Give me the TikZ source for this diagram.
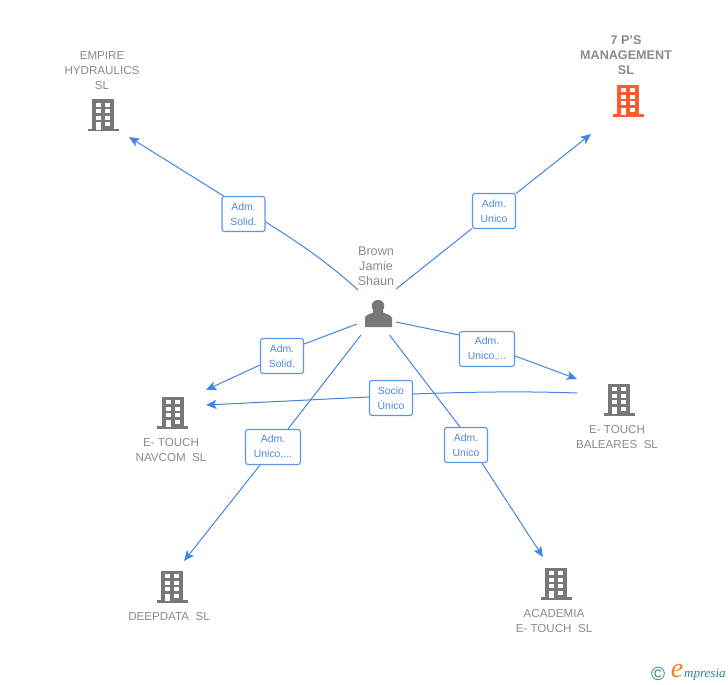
\documentclass[tikz,border=0pt]{standalone}
\usepackage{fontspec}
\setmainfont{Liberation Sans}
\newfontfamily\logofont{Liberation Serif}
\usetikzlibrary{arrows.meta}
\definecolor{linkblue}{HTML}{3F86E6}
\definecolor{boxblue}{HTML}{5A97EA}
\definecolor{labelblue}{HTML}{4A88DC}
\definecolor{txtgray}{HTML}{8A8A8A}
\definecolor{icongray}{HTML}{787878}
\definecolor{iconred}{HTML}{FF5A30}
\definecolor{logoteal}{HTML}{2F7F93}
\definecolor{logoorange}{HTML}{F58220}
\tikzset{
  x=1pt,y=-1pt,
  link/.style={draw=linkblue,line width=1pt},
  arrowlink/.style={link,-{Stealth[length=10.5pt,width=9pt,inset=2.5pt]}},
  rolebox/.style={draw=boxblue,line width=1.1pt,rounded corners=2.5pt,fill=white,align=center,
    font=\fontsize{10.4}{15}\selectfont,text=labelblue,minimum height=35pt,inner sep=1pt},
  caption/.style={align=center,font=\fontsize{11.6}{15}\selectfont,text=txtgray,inner sep=0pt},
  anchorpt/.style={inner sep=0pt,minimum size=24pt},
  pics/bldg/.style={code={
    \fill[#1] (-11,-16.5) rectangle (11,15);
    \fill[#1] (-15.5,13) rectangle (15.5,15.5);
    \foreach \yy in {-13,-6.5,0} {
      \fill[white] (-7,\yy) rectangle (-2,\yy+4);
      \fill[white] (2,\yy) rectangle (7,\yy+4);
    }
    \fill[white] (-7,6.5) rectangle (-2,14);
    \fill[white] (2,6.5) rectangle (7,10.5);
  }}
}
\begin{document}
\begin{tikzpicture}
\useasboundingbox (0,0) rectangle (728,685);
% buildings
\node[anchorpt] (empire) at (103,115.5) {};
\pic at (empire.center) {bldg={icongray}};
\node[anchorpt] (seven) at (628,101) {};
\pic at (seven.center) {bldg={iconred}};
\node[anchorpt] (navcom) at (172.5,413) {};
\pic at (navcom.center) {bldg={icongray}};
\node[anchorpt] (baleares) at (619,400) {};
\pic at (baleares.center) {bldg={icongray}};
\node[anchorpt] (deepdata) at (172,587) {};
\pic at (deepdata.center) {bldg={icongray}};
\node[anchorpt] (academia) at (556,584) {};
\pic at (academia.center) {bldg={icongray}};
% person
\node[anchorpt] (person) at (378,314) {};
\fill[icongray] (365,327) -- (365,318.5) .. controls (365,315) and (369,314.5) .. (373,312.5)
  .. controls (373.5,311.5) and (373.5,311) .. (373,310)
  .. controls (370.5,307) and (371,300) .. (378,300)
  .. controls (385,300) and (385.5,307) .. (383,310)
  .. controls (382.5,311) and (382.5,311.5) .. (383,312.5)
  .. controls (387,314.5) and (392,315) .. (392,318.5) -- (392,327) -- cycle;
% captions
\node[caption] (c1) at (102,70.5) {EMPIRE\\HYDRAULICS\\SL};
\node[caption,font=\bfseries\fontsize{12.6}{15}\selectfont] (c2) at (626,55) {7 P'S\\MANAGEMENT\\SL};
\node[caption,font=\fontsize{12.6}{15}\selectfont] (c3) at (376,266) {Brown\\Jamie\\Shaun};
\node[caption] (c4) at (171,450) {E- TOUCH\\NAVCOM\ \ SL};
\node[caption] (c5) at (617,437) {E- TOUCH\\BALEARES\ \ SL};
\node[caption] (c6) at (169,616) {DEEPDATA\ \ SL};
\node[caption] (c7) at (554,621) {ACADEMIA\\E- TOUCH\ \ SL};
% role boxes
\node[rolebox,minimum width=43pt] (r1) at (243.5,214) {Adm.\\Solid.};
\node[rolebox,minimum width=43pt] (r2) at (494,211) {Adm.\\Unico};
\node[rolebox,minimum width=55pt] (r3) at (487,349) {Adm.\\Unico,...};
\node[rolebox,minimum width=43pt] (r4) at (282,356) {Adm.\\Solid.};
\node[rolebox,minimum width=43pt] (r5) at (391,398) {Socio\\Único};
\node[rolebox,minimum width=55pt] (r6) at (273,447) {Adm.\\Unico,...};
\node[rolebox,minimum width=43pt] (r7) at (466,445) {Adm.\\Unico};
% free ends
\coordinate (s1) at (358,290);
\coordinate (s2) at (396,289);
\coordinate (s3) at (396,322);
\coordinate (s4) at (357,324);
\coordinate (s5) at (577,393);
\coordinate (s6) at (361,335);
\coordinate (s7) at (389.5,335);
\coordinate (t1) at (129,137);
\coordinate (t2) at (591,134);
\coordinate (t3) at (577,379);
\coordinate (t4) at (206,390);
\coordinate (t5) at (206,405);
\coordinate (t6) at (184,561);
\coordinate (t7) at (543,557);
% connectors
\draw[link] (s1) .. controls (330,264) and (295,240) .. ([yshift=-8pt]r1.east);
\draw[arrowlink] ([xshift=-20pt]r1.north) -- (t1);
\draw[link] (s2) -- (r2);
\draw[arrowlink] (r2) -- (t2);
\draw[link] (s3) -- ([yshift=14pt]r3.west);
\draw[arrowlink] ([yshift=-7pt]r3.east) -- (t3);
\draw[link] (s4) -- ([yshift=12pt]r4.east);
\draw[arrowlink] ([yshift=-9pt]r4.west) -- (t4);
\draw[link] (s5) .. controls (520,391) and (470,392) .. ([yshift=4pt]r5.east);
\draw[arrowlink] ([yshift=1pt]r5.west) -- (t5);
\draw[link] (s6) -- ([xshift=15pt]r6.north);
\draw[arrowlink] ([xshift=-13pt]r6.south) -- (t6);
\draw[link] (s7) -- ([xshift=-6pt]r7.north);
\draw[arrowlink] ([xshift=16pt]r7.south) -- (t7);
% logo
\node[inner sep=0pt,text=logoteal,font=\fontsize{19}{19}\selectfont] (lg1) at (658,674) {©};
\node[inner sep=0pt,text=logoorange,font=\logofont\itshape\fontsize{28}{28}\selectfont] (lg2) at (677,671) {e};
\node[inner sep=0pt,anchor=west,text=logoteal,font=\logofont\itshape\fontsize{13}{15}\selectfont] (lg3) at (684,675) {mpresia};
\end{tikzpicture}
\end{document}
